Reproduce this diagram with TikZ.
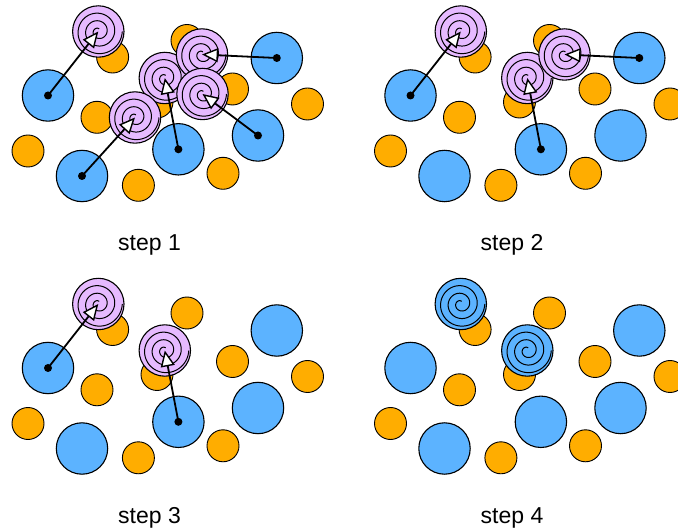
\documentclass[tikz,border=0pt]{standalone}
\usepackage{fontspec}
\setmainfont{Liberation Sans}
\usetikzlibrary{arrows.meta}
\definecolor{bluefill}{HTML}{5CB3FF}
\definecolor{orangefill}{HTML}{FFAD00}
\definecolor{purplefill}{HTML}{E6BAFF}
\tikzset{
  spiralpath/.style={path picture={\draw[line width=1, shift={(path picture bounding box.center)}]
      plot[domain=0:2.8, samples=180, smooth, variable=\t]
      ({(24-7.6*\t)*cos(360*\t)}, {(24-7.6*\t)*sin(360*\t)});}},
  bluec/.style={circle, draw, line width=1.1, inner sep=0, minimum size=51.4, fill=bluefill},
  orangec/.style={circle, draw, line width=0.9, inner sep=0, minimum size=32, fill=orangefill},
  ghost/.style={bluec, fill=purplefill, spiralpath},
  spiralblue/.style={bluec, spiralpath},
  dotc/.style={circle, fill=black, inner sep=0, minimum size=8},
  arr/.style={line width=1.8, -{Triangle[fill=white, length=16pt, width=14pt, line width=1.4pt]}},
  lbl/.style={font=\fontsize{23}{27}\selectfont, anchor=base}
}
\begin{document}
\begin{tikzpicture}[x=1pt, y=-1pt]
\useasboundingbox (0,0) rectangle (678,529);
\clip (0,0) rectangle (678,529);
% common background in each panel
\foreach \pn/\dx/\dy in {a/0/0, b/362.5/0, c/0/272.5, d/362.5/272.5} {
  \begin{scope}[shift={(\dx,\dy)}]
    \node[orangec] (\pn o1) at (112.6,57) {};
    \node[orangec] (\pn o2) at (187,40.5) {};
    \node[orangec] (\pn o3) at (232.5,89) {};
    \node[orangec] (\pn o4) at (307.5,104) {};
    \node[orangec] (\pn o5) at (97,117.3) {};
    \node[orangec] (\pn o6) at (28,151) {};
    \node[orangec] (\pn o7) at (138.4,185.3) {};
    \node[orangec] (\pn o8) at (223,173.3) {};
    \node[orangec] (\pn o9) at (157,102) {};
    \node[bluec] (\pn b1) at (48,95.5) {};
    \node[bluec] (\pn b2) at (82,176) {};
    \node[bluec] (\pn b3) at (178.4,149.3) {};
    \node[bluec] (\pn b4) at (258,135.5) {};
    \node[bluec] (\pn b5) at (276.8,58) {};
  \end{scope}
}
% step 1
\node[ghost] (ap3) at (164.8,78) {};
\node[ghost] (ap5) at (202,54.5) {};
\node[ghost] (ap4) at (202.5,94) {};
\node[ghost] (ap2) at (135,117.5) {};
\node[ghost] (ap1) at (98.3,31.5) {};
\foreach \i in {1,...,5} {
  \node[dotc] (ad\i) at (ab\i.center) {};
  \draw[arr] (ad\i.center) -- (ap\i.center);
}
\node[lbl] (l1) at (149.5,250.7) {step 1};
% step 2
\begin{scope}[shift={(362.5,0)}]
\node[ghost] (bp3) at (164.8,78) {};
\node[ghost] (bp5) at (202,54.5) {};
\node[ghost] (bp1) at (98.3,31.5) {};
\node[lbl] (l2) at (149.5,250.7) {step 2};
\end{scope}
\foreach \i in {1,3,5} {
  \node[dotc] (bd\i) at (bb\i.center) {};
  \draw[arr] (bd\i.center) -- (bp\i.center);
}
% step 3
\begin{scope}[shift={(0,272.5)}]
\node[ghost] (cp3) at (164.8,78) {};
\node[ghost] (cp1) at (98.3,31.5) {};
\node[lbl] (l3) at (149.5,250.7) {step 3};
\end{scope}
\foreach \i in {1,3} {
  \node[dotc] (cd\i) at (cb\i.center) {};
  \draw[arr] (cd\i.center) -- (cp\i.center);
}
% step 4
\begin{scope}[shift={(362.5,272.5)}]
\node[spiralblue] (dp3) at (164.8,78) {};
\node[spiralblue] (dp1) at (98.3,31.5) {};
\node[lbl] (l4) at (149.5,250.7) {step 4};
\end{scope}
\end{tikzpicture}
\end{document}
